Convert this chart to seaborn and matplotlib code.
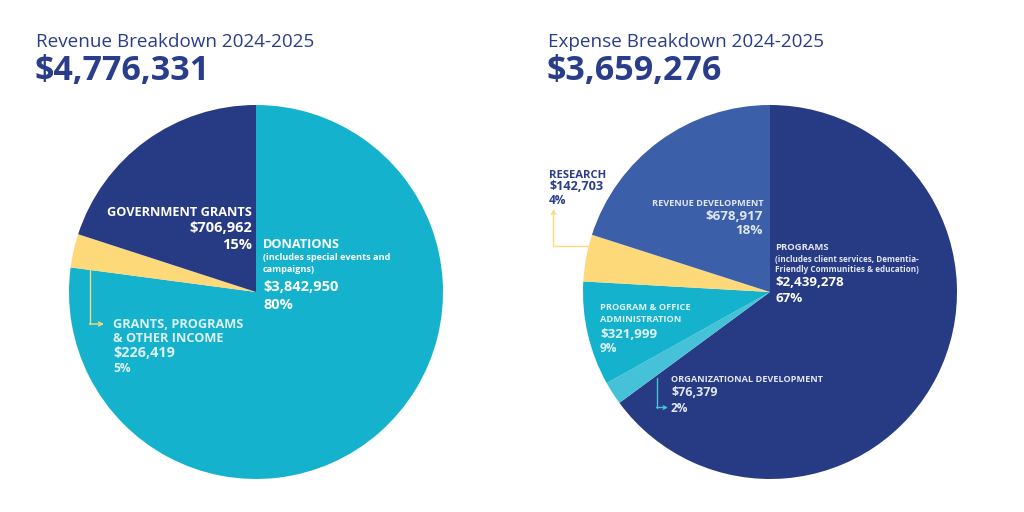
import matplotlib
matplotlib.use("Agg")
import matplotlib.pyplot as plt
import seaborn as sns

sns.set_theme(style="white")
plt.rcParams['font.family'] = ['Open Sans', 'DejaVu Sans']

# ---------------- data ----------------
rev_title = "Revenue Breakdown 2024-2025"
rev_total = "$4,776,331"
rev_categories = ["Donations", "Grants, Programs & Other Income", "Government Grants"]
rev_amounts = ["$3,842,950", "$226,419", "$706,962"]
rev_pct_labels = ["80%", "5%", "15%"]
# slice shares as drawn in the picture (estimated)
rev_shares = [77.1, 2.9, 20.0]

exp_title = "Expense Breakdown 2024-2025"
exp_total = "$3,659,276"
exp_categories = ["Programs", "Organizational Development", "Program & Office Administration",
                  "Research", "Revenue Development"]
exp_amounts = ["$2,439,278", "$76,379", "$321,999", "$142,703", "$678,917"]
exp_pct_labels = ["67%", "2%", "9%", "4%", "18%"]
exp_shares = [64.9, 2.0, 9.0, 4.05, 20.05]

# ---------------- style ----------------
NAVY = "#273a84"
CYAN = "#14b2cc"
YELLOW = "#fdd97a"
BLUE = "#3b5fa9"
LCYAN = "#46c2d8"
TITLE = "#2a3d8b"
WHITE = "white"
PALE = "#dff3f7"
LAV = "#e2e7f4"

rev_colors = [CYAN, YELLOW, NAVY]
exp_colors = [NAVY, LCYAN, CYAN, YELLOW, BLUE]

W, H = 1024, 512
fig = plt.figure(figsize=(W / 100, H / 100), dpi=100)
ax = fig.add_axes([0, 0, 1, 1])


def Y(y):
    return H - y


R = 187
ax.pie(rev_shares, colors=rev_colors, startangle=90, counterclock=False,
       center=(256, Y(292)), radius=R, wedgeprops=dict(linewidth=0))
ax.pie(exp_shares, colors=exp_colors, startangle=90, counterclock=False,
       center=(770, Y(292)), radius=R, wedgeprops=dict(linewidth=0))
ax.set_xlim(0, W)
ax.set_ylim(0, H)
ax.set_aspect('equal')
ax.axis('off')


def T(x, y, s, size, color=WHITE, ha='left', weight='bold'):
    ax.text(x, Y(y), s, fontsize=size, color=color, ha=ha, va='center',
            fontweight=weight)


# titles
T(36, 42, rev_title, 13.6, TITLE, weight='normal')
T(35, 71, rev_total, 24.5, TITLE)
T(548, 42, exp_title, 13.6, TITLE, weight='normal')
T(547, 71, exp_total, 24.5, TITLE)

# ---- revenue labels ----
T(252, 213, rev_categories[2].upper(), 9.2, ha='right')
T(252, 228, rev_amounts[2], 10.5, ha='right')
T(252, 245, rev_pct_labels[2], 10.5, ha='right')

T(263, 245, rev_categories[0].upper(), 9.2)
T(263, 258, "(includes special events and", 6.6)
T(263, 270, "campaigns)", 6.6)
T(263, 287, rev_amounts[0], 10.5)
T(263, 305, rev_pct_labels[0], 10.5)

T(113, 325, "GRANTS, PROGRAMS", 9.2, PALE)
T(113, 339, "& OTHER INCOME", 9.2, PALE)
T(113, 353, rev_amounts[1], 10.4, PALE)
T(113, 368, rev_pct_labels[1], 8.6, PALE)

ax.plot([90, 90], [Y(266), Y(324)], color=YELLOW, lw=1)
ax.annotate("", xy=(104, Y(324)), xytext=(89.5, Y(324)),
            arrowprops=dict(arrowstyle='->', color=YELLOW, lw=1, shrinkA=0, shrinkB=0,
                            mutation_scale=7))

# ---- expense labels ----
T(549, 175, exp_categories[3].upper(), 8.1, TITLE)
T(549, 187, exp_amounts[3], 9.1, TITLE)
T(549, 201, exp_pct_labels[3], 8.6, TITLE)
ax.plot([553.5, 591], [Y(246), Y(246)], color=YELLOW, lw=1)
ax.annotate("", xy=(553.5, Y(209)), xytext=(553.5, Y(246.5)),
            arrowprops=dict(arrowstyle='->', color=YELLOW, lw=1, shrinkA=0, shrinkB=0,
                            mutation_scale=7))

T(763, 203, exp_categories[4].upper(), 6.6, LAV, ha='right')
T(763, 216, exp_amounts[4], 9.6, LAV, ha='right')
T(763, 230, exp_pct_labels[4], 9.6, LAV, ha='right')

T(775, 248, exp_categories[0].upper(), 6.8, LAV)
T(775, 259, "(includes client services, Dementia-", 5.9, LAV)
T(775, 269, "Friendly Communities & education)", 5.9, LAV)
T(775, 283, exp_amounts[0], 9.6)
T(775, 299, exp_pct_labels[0], 9.6)

T(600, 307, "PROGRAM & OFFICE", 6.7, PALE)
T(600, 320, "ADMINISTRATION", 6.7, PALE)
T(600, 334, exp_amounts[2], 9.6, PALE)
T(600, 349, exp_pct_labels[2], 8.6, PALE)

T(671, 380, exp_categories[1].upper(), 6.6, LAV)
T(671, 392, exp_amounts[1], 9.0, LAV)
T(671, 408, exp_pct_labels[1], 8.6, LAV)
ax.plot([657, 657], [Y(378), Y(407.5)], color=LCYAN, lw=1)
ax.annotate("", xy=(668, Y(407.5)), xytext=(656.5, Y(407.5)),
            arrowprops=dict(arrowstyle='->', color=LCYAN, lw=1, shrinkA=0, shrinkB=0,
                            mutation_scale=6))

fig.savefig("out.png", dpi=100, facecolor="white")
